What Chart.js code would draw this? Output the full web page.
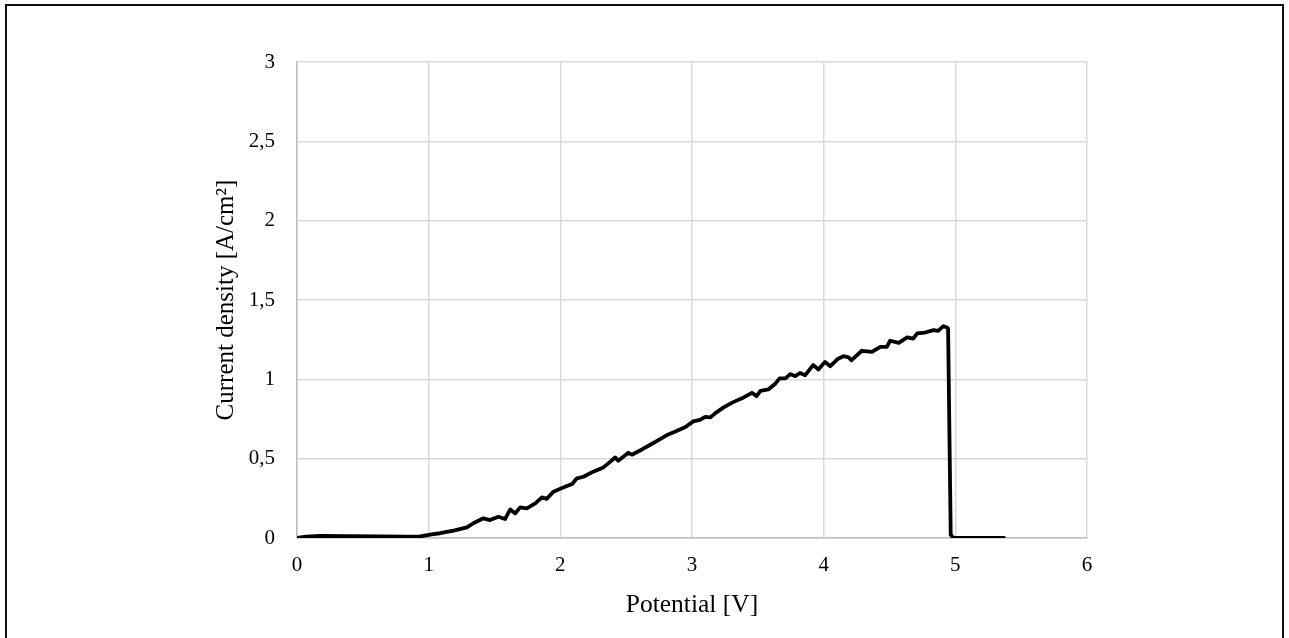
<!DOCTYPE html>
<html>
<head>
<meta charset="utf-8">
<title>Current density vs potential</title>
<script src="https://cdn.jsdelivr.net/npm/chart.js@4/dist/chart.umd.min.js"></script>
<style>
  html, body { margin: 0; padding: 0; background: #fff; }
  #wrap { position: relative; width: 1289px; height: 638px; overflow: hidden; }
  #frame { position: absolute; left: 5px; top: 4px; width: 1275px; height: 700px; border: 2px solid #111; pointer-events: none; }
</style>
</head>
<body>
<div id="wrap">
  <canvas id="chart" width="1289" height="638"></canvas>
  <div id="frame"></div>
</div>
<script>
/* values */
var POTENTIAL = [
  0, 0.07, 0.17, 0.375, 0.63, 0.83, 0.935, 1.035, 1.087, 1.19,
  1.29, 1.34, 1.415, 1.466, 1.53, 1.58, 1.62, 1.656, 1.695, 1.745,
  1.81, 1.86, 1.897, 1.948, 2.0, 2.05, 2.09, 2.125, 2.176, 2.25,
  2.327, 2.378, 2.416, 2.44, 2.517, 2.543, 2.62, 2.68, 2.745, 2.81,
  2.87, 2.95, 3.01, 3.06, 3.10, 3.14, 3.18, 3.24, 3.317, 3.393,
  3.455, 3.49, 3.52, 3.58, 3.63, 3.665, 3.71, 3.746, 3.784, 3.82,
  3.86, 3.92, 3.96, 4.01, 4.05, 4.11, 4.15, 4.19, 4.21, 4.29,
  4.367, 4.43, 4.48, 4.505, 4.57, 4.634, 4.68, 4.71, 4.77, 4.835,
  4.87, 4.91, 4.937, 4.945, 4.965, 4.98, 5.0, 5.37
];
var CURRENT_DENSITY = [
  0, 0.009, 0.013, 0.012, 0.01, 0.008, 0.01, 0.025, 0.03, 0.046,
  0.067, 0.093, 0.124, 0.113, 0.134, 0.12, 0.18, 0.155, 0.193, 0.187,
  0.218, 0.256, 0.247, 0.292, 0.31, 0.327, 0.34, 0.376, 0.386, 0.418,
  0.445, 0.48, 0.508, 0.487, 0.537, 0.525, 0.558, 0.586, 0.617, 0.649,
  0.67, 0.70, 0.735, 0.745, 0.764, 0.76, 0.789, 0.823, 0.858, 0.886,
  0.915, 0.894, 0.928, 0.936, 0.97, 1.006, 1.006, 1.033, 1.02, 1.04,
  1.026, 1.09, 1.062, 1.11, 1.083, 1.13, 1.146, 1.138, 1.12, 1.18,
  1.173, 1.205, 1.205, 1.243, 1.23, 1.264, 1.257, 1.289, 1.295, 1.31,
  1.305, 1.335, 1.327, 1.32, 0.02, 0.005, 0, 0
];
var X_TITLE = 'Potential [V]';
var Y_TITLE = 'Current density [A/cm²]';

(function () {
  var FONT = "'Liberation Serif', 'Times New Roman', serif";
  var GRID = '#d9d9d9';
  var AXIS = '#bfbfbf';

  var pts = POTENTIAL.map(function (x, i) { return { x: x, y: CURRENT_DENSITY[i] }; });

  function comma(v) { return String(v).replace('.', ','); }

  new Chart(document.getElementById('chart'), {
    type: 'line',
    data: {
      datasets: [{
        data: pts,
        borderColor: '#000',
        borderWidth: 3.8,
        pointRadius: 0,
        tension: 0,
        fill: false,
        borderJoinStyle: 'round',
        borderCapStyle: 'round'
      }]
    },
    options: {
      responsive: false,
      animation: false,
      layout: { padding: { left: 198, top: 62, right: 202, bottom: 0 } },
      plugins: { legend: { display: false }, tooltip: { enabled: false } },
      scales: {
        x: {
          type: 'linear', min: 0, max: 6,
          afterFit: function (s) { s.height = 100; },
          grid: { color: GRID, lineWidth: 1.5, drawTicks: false },
          border: { color: AXIS, width: 1.5 },
          ticks: { stepSize: 1, padding: 15, color: '#000', font: { family: FONT, size: 21 }, callback: comma },
          title: { display: true, text: X_TITLE, color: '#000', font: { family: FONT, size: 25.5 }, padding: { top: 0, bottom: 17 } }
        },
        y: {
          type: 'linear', min: 0, max: 3,
          afterFit: function (s) { s.width = 99; },
          grid: { color: GRID, lineWidth: 1.5, drawTicks: false },
          border: { color: AXIS, width: 1.5 },
          ticks: { stepSize: 0.5, padding: 22, color: '#000', font: { family: FONT, size: 21 }, callback: comma },
          title: { display: true, text: Y_TITLE, color: '#000', font: { family: FONT, size: 25 }, padding: { top: 13, bottom: 0 } }
        }
      }
    }
  });
})();
</script>
</body>
</html>
